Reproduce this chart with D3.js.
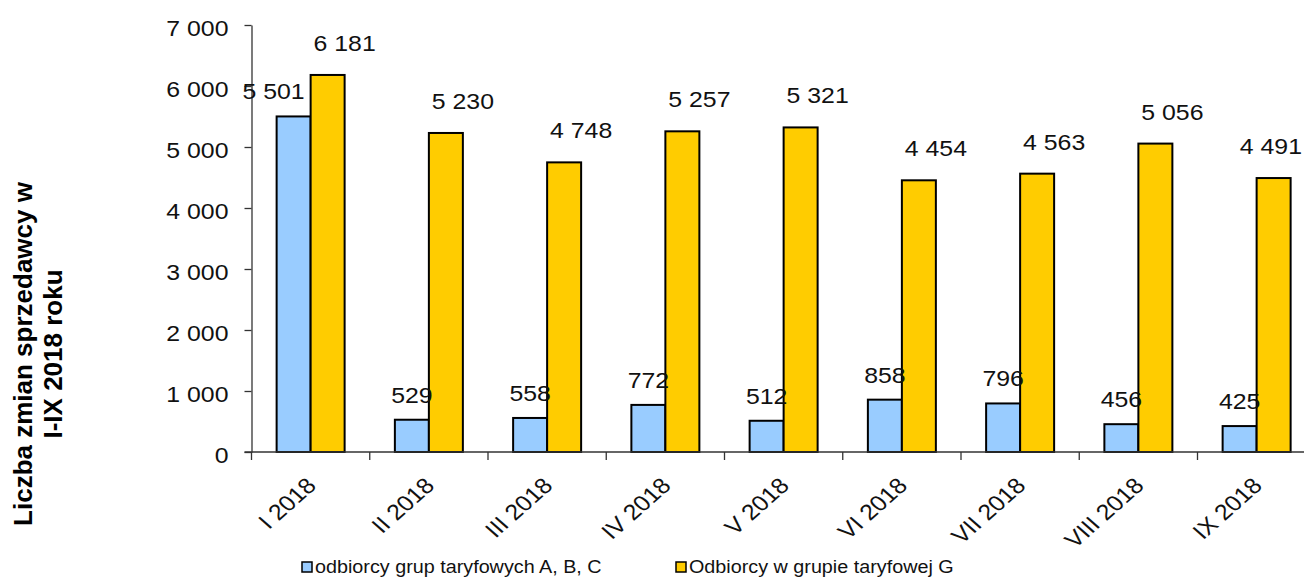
<!DOCTYPE html>
<html>
<head>
<meta charset="utf-8">
<script src="https://cdn.jsdelivr.net/npm/d3@7"></script>
<style>
  html, body { margin: 0; padding: 0; background: #fff; overflow: hidden; }
  svg { display: block; font-family: "Liberation Sans", Arial, sans-serif; }
</style>
</head>
<body>
<script>
"use strict";

// data
const categories = ["I 2018", "II 2018", "III 2018", "IV 2018", "V 2018",
                    "VI 2018", "VII 2018", "VIII 2018", "IX 2018"];
const seriesNames = ["odbiorcy grup taryfowych A, B, C", "Odbiorcy w grupie taryfowej G"];
const valuesABC = [5501, 529, 558, 772, 512, 858, 796, 456, 425];
const valuesG = [6181, 5230, 4748, 5257, 5321, 4454, 4563, 5056, 4491];
const yTicks = [0, 1000, 2000, 3000, 4000, 5000, 6000, 7000];
const yTitle = ["Liczba zmian sprzedawcy w", "I-IX 2018 roku"];

const WIDTH = 1304, HEIGHT = 582;
const SX = 1.13;              // text in the source is slightly wider than tall
const COLORS = ["#99CCFF", "#FFCC00"];
const PLOT_LEFT = 251.5, PLOT_TOP = 25, PLOT_BOTTOM = 452;
const BAND = 118.25;          // category width (the plot runs off the right edge)

const rows = categories.map((c, i) => ({ cat: c, v: [valuesABC[i], valuesG[i]] }));
const fmt = d3.formatLocale({ decimal: ",", thousands: " ", grouping: [3] }).format(",d");

const svg = d3.select("body").append("svg")
  .attr("width", WIDTH).attr("height", HEIGHT);

const x = d3.scaleBand().domain(categories)
  .range([PLOT_LEFT, PLOT_LEFT + BAND * categories.length]);
const xSub = d3.scaleBand().domain([0, 1])
  .range([0, x.bandwidth()]).paddingOuter(0.739);
const y = d3.scaleLinear().domain([0, 7000]).range([PLOT_BOTTOM, PLOT_TOP]);

// y axis
const yAxis = svg.append("g")
  .attr("transform", `translate(${PLOT_LEFT},0)`)
  .call(d3.axisLeft(y).tickValues(yTicks).tickFormat(fmt).tickSize(7).tickSizeOuter(0));
yAxis.select(".domain").attr("stroke", "#333").attr("stroke-width", 1.3);
yAxis.selectAll(".tick line").attr("stroke", "#333").attr("stroke-width", 1.3);
yAxis.selectAll(".tick text")
  .attr("x", null).attr("dy", null)
  .attr("transform", `translate(-23,10) scale(${SX},1)`)
  .attr("font-size", 22).attr("fill", "#111")
  .attr("font-family", "Liberation Sans, Arial, sans-serif");

// bars
const groups = svg.append("g").selectAll("g").data(rows).join("g")
  .attr("transform", d => `translate(${x(d.cat)},0)`);

groups.selectAll("rect")
  .data(d => d.v.map((v, k) => ({ k, v })))
  .join("rect")
  .attr("x", d => xSub(d.k))
  .attr("width", xSub.bandwidth())
  .attr("y", d => y(d.v))
  .attr("height", d => y(0) - y(d.v))
  .attr("fill", d => COLORS[d.k])
  .attr("stroke", "#000")
  .attr("stroke-width", 2);

// x axis line + category ticks
const xAxisG = svg.append("g");
xAxisG.append("line")
  .attr("x1", PLOT_LEFT - 7).attr("x2", WIDTH)
  .attr("y1", y(0)).attr("y2", y(0))
  .attr("stroke", "#333").attr("stroke-width", 1.3);
xAxisG.selectAll("line.tk")
  .data(categories.concat([null]))
  .join("line").attr("class", "tk")
  .attr("x1", d => d === null ? x.range()[1] : x(d))
  .attr("x2", d => d === null ? x.range()[1] : x(d))
  .attr("y1", y(0)).attr("y2", y(0) + 8)
  .attr("stroke", "#333").attr("stroke-width", 1.3);

xAxisG.selectAll("text")
  .data(categories)
  .join("text")
  .attr("transform", d => `translate(${x(d) + x.bandwidth() / 2 + 7},${y(0) + 35}) scale(${SX},1) rotate(-45)`)
  .attr("text-anchor", "end")
  .attr("font-size", 22).attr("fill", "#111")
  .text(d => d);

// value labels
const labels = svg.append("g").attr("font-size", 22).attr("fill", "#111");
rows.forEach(r => {
  const gx = x(r.cat);
  // series G: above and to the right of the bar
  const tG = labels.append("text")
    .attr("text-anchor", "middle")
    .text(fmt(r.v[1]));
  const wG = tG.node().getBBox().width * SX;
  let cG = gx + xSub(1) + xSub.bandwidth() / 2 + 17;
  if (cG + wG / 2 > WIDTH - 2) cG = WIDTH - 2 - wG / 2;
  tG.attr("transform", `translate(${cG},${y(r.v[1]) - 24}) scale(${SX},1)`);

  // series A,B,C: centred over the bar, pushed left if it runs into the G bar
  const tA = labels.append("text")
    .attr("text-anchor", "middle")
    .text(fmt(r.v[0]));
  const wA = tA.node().getBBox().width * SX;
  let cA = gx + xSub(0) + xSub.bandwidth() / 2;
  const limit = gx + xSub(1) + 2;
  if (cA + wA / 2 > limit + 4) cA = gx + xSub(1) - 6 - wA / 2;
  tA.attr("transform", `translate(${cA},${y(r.v[0]) - 17}) scale(${SX},1)`);
});

// y title
const title = svg.append("text")
  .attr("transform", "translate(0,354) rotate(-90)")
  .attr("text-anchor", "middle")
  .attr("font-size", 26).attr("font-weight", "bold").attr("fill", "#000");
title.selectAll("tspan").data(yTitle).join("tspan")
  .attr("x", 0)
  .attr("y", (d, i) => 32 + i * 30)
  .text(d => d);

// legend
const legendX = [302, 676];
const legend = svg.append("g").selectAll("g").data(seriesNames).join("g")
  .attr("transform", (d, i) => `translate(${legendX[i]},562)`);
legend.append("rect")
  .attr("width", 10).attr("height", 10)
  .attr("fill", (d, i) => COLORS[i])
  .attr("stroke", "#000").attr("stroke-width", 1.5);
legend.append("text")
  .attr("transform", `translate(13,11) scale(${SX},1)`)
  .attr("font-size", 17.5).attr("fill", "#111")
  .text(d => d);
</script>
</body>
</html>
